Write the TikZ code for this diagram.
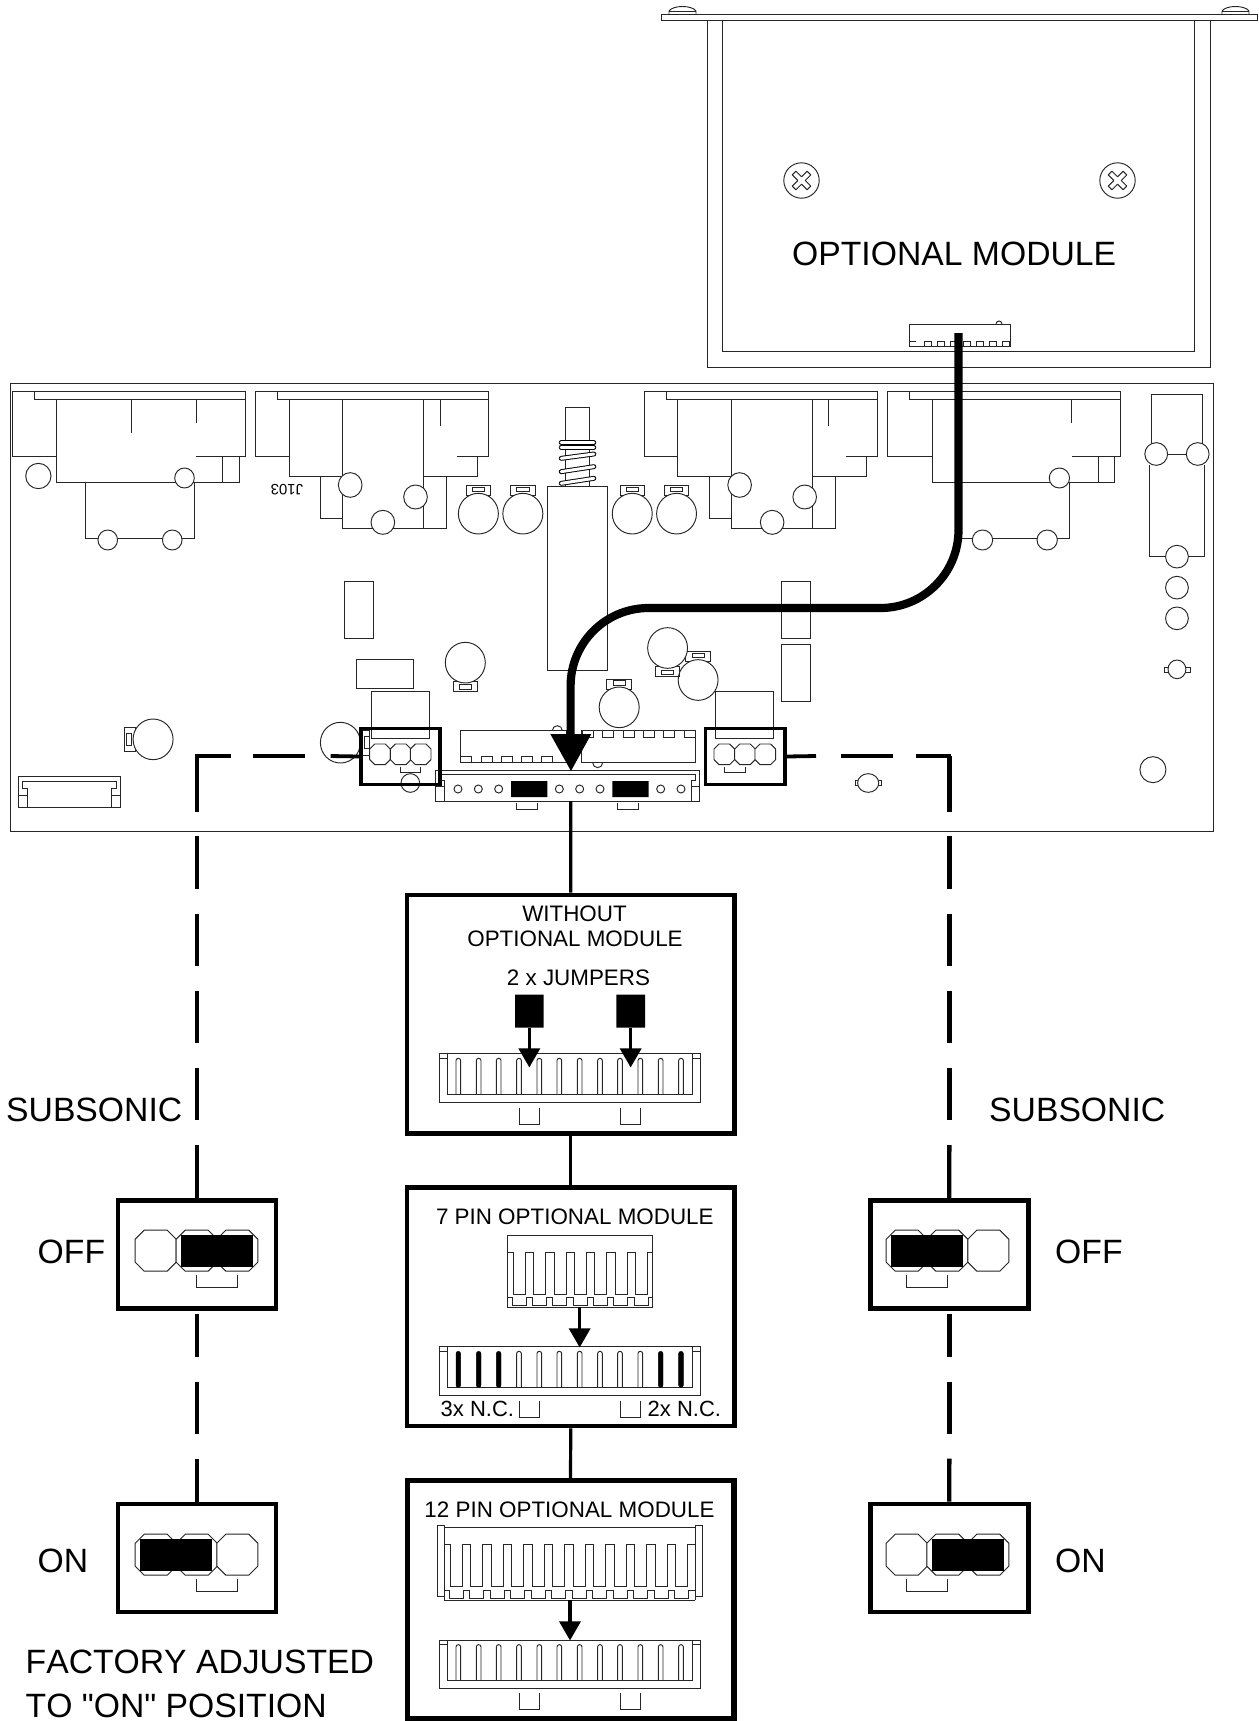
\documentclass[tikz,border=0pt]{standalone}
\usepackage{fontspec}
\setmainfont{Liberation Sans}
\newfontfamily\mf{Liberation Sans}[Kerning=Off]
\newcommand\fsz[1]{\mf\fontsize{#1}{#1}\selectfont}
\tikzset{
  ln/.style={line width=0.95pt,draw=black!85},
  jump/.style={line width=3.2pt,draw=black},
  dashln/.style={line width=4.4pt,draw=black},
  hdash/.style={line width=3.8pt,draw=black},
  bigtxt/.style={inner sep=0pt,anchor=base west,font=\fsz{33.7}},
  midtxt/.style={inner sep=0pt,anchor=base,font=\fsz{22.4}},
  framebox/.style={draw=black,line width=4.6pt,inner sep=0pt,minimum width=#1},
  framebox/.default=158pt,
  thinframe/.style={draw=black,line width=3.7pt,inner sep=0pt},
}
\newcommand\el[4]{\draw[ln,fill=white] (#1,#2) ellipse [x radius=#3,y radius=#4];}
\newcommand\rc[4]{\draw[ln] (#1,#2) rectangle (#3,#4);}
\newcommand\capT[2]{\rc{#1-30}{#2-85}{#1+30}{#2-55}\rc{#1-15}{#2-80}{#1+15}{#2-67}\el{#1}{#2}{49}{61}}
\newcommand\capB[2]{\rc{#1-30}{#2+55}{#1+30}{#2+86}\rc{#1-15}{#2+66}{#1+15}{#2+79}\el{#1}{#2}{49}{61}}
\newcommand\oct[4]{\draw[ln,fill=white] (#1-#3+#4,#2-#3)--(#1+#3-#4,#2-#3)--(#1+#3,#2-#3+#4)--(#1+#3,#2+#3-#4)--(#1+#3-#4,#2+#3)--(#1-#3+#4,#2+#3)--(#1-#3,#2+#3-#4)--(#1-#3,#2-#3+#4)--cycle;}
% comb: x, width, period, last index, top, bottom
\newcommand\comb[6]{%
  \foreach \i in {0,...,#4}{\draw[ln] ({#1+#3*\i},#5)--({#1+#3*\i},#6)--({#1+#3*\i+#2},#6)--({#1+#3*\i+#2},#5);}
  \foreach \i in {1,...,#4}{\draw[ln] ({#1+#3*\i-#3+#2},#5)--({#1+#3*\i},#5);}}
% header in zoom units, top T
\newcommand\header[1]{%
  \rc{148}{#1}{932}{#1+146}
  \draw[ln] (172,#1)--(172,#1+122)--(907,#1+122)--(907,#1);
  \draw[ln] (148,#1+14)--(172,#1+14) (907,#1+14)--(932,#1+14);}
\newcommand\slot[2]{\draw[ln,rounded corners=2.2pt] (#1-7,#2+122)--(#1-7,#2+14)--(#1+7,#2+14)--(#1+7,#2+122);}
\newcommand\slotb[2]{\draw[fill=black,draw=black,rounded corners=2.2pt] (#1-7,#2+122)--(#1-7,#2+14)--(#1+7,#2+14)--(#1+7,#2+122)--cycle;}
\newcommand\brk[4]{\draw[ln] (#1,#3)--(#1,#4)--(#2,#4)--(#2,#3);}
\newcommand\atip[3]{\fill[black] (#1-33,#2)--(#1+33,#2)--(#1,#3)--cycle;}
\begin{document}
\begin{tikzpicture}[x=1pt,y=-1pt]
\useasboundingbox (0,0) rectangle (1258,1721);
% ---- optional module
\draw[ln] (707,20)--(707,367)--(1210,367)--(1210,20);
\draw[ln] (722,20)--(722,351)--(1194.5,351)--(1194.5,20);
\draw[ln,fill=white] (661.5,14) rectangle (1257,20);
\foreach \b in {669,1222}{
  \draw[ln] (\b,14)--(\b,11) .. controls (\b+4,5) and (\b+23,5) .. (\b+27,11)--(\b+27,14);
  \draw[ln] (\b,11)--(\b+27,11);}
\foreach \c in {801.5,1117.5}{
  \draw[ln] (\c,180.5) circle [radius=17.7];
  \begin{scope}[shift={(\c,180.5)},rotate=45]
    \draw[ln,line join=round] (-2.6,-10.5)--(2.6,-10.5)--(2.6,-2.6)--(10.5,-2.6)--(10.5,2.6)--(2.6,2.6)--(2.6,10.5)--(-2.6,10.5)--(-2.6,2.6)--(-10.5,2.6)--(-10.5,-2.6)--(-2.6,-2.6)--cycle;
  \end{scope}}
\node[bigtxt] (title) at (792,265) {OPTIONAL MODULE};
\draw[ln] (909,346)--(909,324)--(1010,324)--(1010,346)--cycle;
\foreach \i in {0,...,6}{\rc{924+13.1*\i}{341}{931+13.1*\i}{346}}
\draw[ln] (909,341)--(916,341) (1003,341)--(1010,341);
\draw[ln] (996,324) arc[start angle=180,end angle=360,radius=3];
% ---- board
\draw[ln] (10,383) rectangle (1213.6,831);
\begin{scope}[shift={(0,370)},x=0.40816pt,y=-0.33333pt]
  % connector 1
  \draw[ln] (139,258)--(30,258)--(30,63)--(602,63)--(602,258)--(480,258);
  \draw[ln] (85,63)--(85,88)--(602,88);
  \draw[ln] (139,88)--(139,336)--(586,336)--(586,258);
  \draw[ln] (546,258)--(546,336);
  \draw[ln] (323,88)--(323,190) (481,88)--(481,160);
  \draw[ln] (209,336)--(209,506)--(477,506)--(477,336);
  \el{94}{318}{31}{38}\el{452}{324}{24}{30}\el{264}{510}{24}{30}\el{422}{510}{24}{30}
  % connector 2
  \draw[ln] (708,258)--(627,258)--(627,63)--(1197,63)--(1197,258)--(1120,258);
  \draw[ln] (681,63)--(681,88)--(1197,88);
  \draw[ln] (708,88)--(708,319)--(840,319);
  \draw[ln] (840,88)--(840,476)--(1093,476)--(1093,319)--(1038,319);
  \draw[ln] (1038,88)--(1038,476) (1078,88)--(1078,167);
  \draw[ln] (1170,258)--(1170,319)--(1038,319);
  \draw[ln] (785,319)--(785,446)--(840,446);
  \el{858}{345}{29}{37}\el{1018}{381}{29}{36}\el{938}{457}{29}{36}
  \node[inner sep=0pt,rotate=180,font=\fsz{15}] (j103) at (703,360) {J103};
  \capT{1172}{431}\capT{1281}{431}\capT{1549}{431}
  % switch
  \rc{1385}{112}{1445}{350}
  \rc{1341}{350}{1489}{901}
  \foreach \a/\b in {218/218,232/232,265/252,305/290,340/325}{
    \draw[line width=0.95pt,black,double=white,double distance=3pt,line cap=round] (1375,\a)--(1455,\b);}
  \rc{844}{634}{914}{804}
  \rc{873}{868}{1013}{954}
  \capB{1140}{878}
  \capT{1517}{1012}
  \rc{910}{964}{1052}{1106}
  % caps by the left box
  \rc{880}{1080}{905}{1155}\rc{893}{1098}{905}{1135}
  \el{834}{1118}{49}{61}
  \rc{305}{1072}{332}{1145}\rc{310}{1090}{322}{1127}
  \el{375}{1108}{49}{61}
  % white connector
  \rc{45}{1219}{294}{1312}
  \draw[ln] (45,1275)--(67,1275)--(67,1255)--(55,1255)--(55,1233)--(285,1233)--(285,1255)--(273,1255)--(273,1275)--(294,1275);
  \draw[ln] (67,1275)--(67,1312) (273,1275)--(273,1312);
\end{scope}
\begin{scope}[shift={(620,370)},x=0.40683pt,y=-0.33333pt]
  % connector 3
  \draw[ln] (142,258)--(60,258)--(60,63)--(633,63)--(633,258)--(555,258);
  \draw[ln] (115,63)--(115,88)--(633,88);
  \draw[ln] (142,88)--(142,319)--(274,319);
  \draw[ln] (274,88)--(274,476)--(529,476)--(529,319)--(473,319);
  \draw[ln] (473,88)--(473,476) (513,88)--(513,167);
  \draw[ln] (606,258)--(606,319)--(473,319);
  \draw[ln] (219,319)--(219,446)--(274,446);
  \el{294}{345}{29}{37}\el{454}{381}{29}{36}\el{374}{457}{29}{36}
  \capT{139}{431}
  % connector 4
  \draw[ln] (768,258)--(657,258)--(657,63)--(1230,63)--(1230,258)--(1110,258);
  \draw[ln] (712,63)--(712,88)--(1230,88);
  \draw[ln] (768,88)--(768,336)--(1215,336)--(1215,258);
  \draw[ln] (1176,258)--(1176,336) (1110,88)--(1110,160);
  \draw[ln] (830,506)--(1105,506)--(1105,336);
  \el{1080}{324}{25}{30}\el{891}{510}{25}{30}\el{1050}{510}{25}{30}
  % right hand column
  \draw[ln] (1307,252)--(1307,73)--(1431,73)--(1431,252);
  \draw[ln] (1301,285)--(1301,560)--(1437,560)--(1437,285);
  \draw[ln] (1346,252)--(1392,252);
  \el{1318}{252}{28}{34}\el{1420}{252}{28}{34}
  \el{1369}{560}{28}{34}\el{1369}{653}{28}{34}\el{1369}{745}{28}{34}
  \rc{1338}{892}{1401}{906}\el{1369}{898}{22}{28}
  \el{1310}{1199}{32}{39}
  \capT{192}{930}
  \capB{117}{834}
  \rc{398}{634}{468}{804}
  \rc{398}{823}{468}{993}
  \rc{234}{964}{377}{1106}
  \rc{580}{1232}{642}{1246}\el{610}{1239}{26}{28}
\end{scope}
% strip, chips and small boxes
\begin{scope}[shift={(340,700)},x=0.33333pt,y=-0.33333pt]
  \draw[ln] (360,92) rectangle (680,188);
  \foreach \s in {360,424,485,545,605}{\draw[ln] (\s,188)--(\s,168)--(\s+33,168)--(\s+33,188);}
  \draw[ln] (637,92) arc[start angle=180,end angle=360,radius=15];
  \draw[ln] (724,92) rectangle (1066,188);
  \foreach \s in {727,788,850,910,970,1033}{\draw[ln] (\s,92)--(\s,112)--(\s+33,112)--(\s+33,92);}
  \draw[ln] (758,188) arc[start angle=180,end angle=0,radius=15];
  \draw[ln,fill=white] (287,212) rectangle (1078,303);
  \draw[ln] (287,258)--(313,258)--(313,242)--(300,242)--(300,222)--(1066,222)--(1066,242)--(1055,242)--(1055,258)--(1078,258);
  \draw[ln] (313,258)--(313,303) (1055,258)--(1055,303);
  \foreach \c in {354,415,476,658,719,780,962,1023}{\draw[ln] (\c,267) circle [radius=12];}
  \fill[black] (513,243) rectangle (622,291) (817,243) rectangle (926,291);
  \brk{530}{592}{309}{327}\brk{833}{895}{309}{327}
  \el{211}{249}{28}{28}
  \brk{181}{241}{200}{218}\brk{1153}{1215}{200}{218}
\end{scope}
\oct{380}{754.3}{10.3}{5}\oct{400.7}{754.3}{10.3}{5}\oct{420.7}{754.3}{10.3}{5}
\oct{724.3}{754.3}{10.3}{5}\oct{745}{754.3}{10.3}{5}\oct{765.3}{754.3}{10.3}{5}
% selector frames on the board
\node[thinframe,minimum width=79pt,minimum height=56pt] (boxL) at (400.5,756.5) {};
\node[thinframe,minimum width=79.5pt,minimum height=56pt] (boxR) at (745.2,756.5) {};
% cable and arrow
\coordinate (modpin) at (958.5,333);
\coordinate (cabbend) at (958.5,608);
\coordinate (cableft) at (570.6,608);
\coordinate (cabend) at (570.6,740);
\draw[black,line width=8.2pt,rounded corners=78pt] (modpin)--(cabbend)--(cableft)--(cabend);
\fill[black] (550.3,734)--(591.3,734)--(571,771)--cycle;
% ---- centre frames
\node[framebox=327.5pt,minimum height=238.5pt] (woBox) at (570.75,1014.25) {};
\node[framebox=327.5pt,minimum height=238.5pt] (svBox) at (570.75,1306.85) {};
\coordinate (twBoxTop) at (570.5,1478);
\coordinate (stripbot) at (570.7,801);
\draw[jump] (stripbot)--(woBox.north);
\draw[jump] (woBox.south)--(svBox.north);
\draw[jump] (svBox.south)--(twBoxTop);
\draw[draw=black,line width=5.6pt] (407.3,1721)--(407.3,1480.5)--(733.9,1480.5)--(733.9,1721);
\draw[draw=black,line width=4.6pt] (407,1718.5)--(734,1718.5);
% box 1
\node[midtxt] (t1) at (574.5,921.7) {WITHOUT};
\node[midtxt] (t2) at (575,946.7) {OPTIONAL MODULE};
\node[midtxt] (t3) at (578.5,985.7) {2 x JUMPERS};
\begin{scope}[shift={(390,880)},x=0.33333pt,y=-0.33333pt]
  \header{521}
  \foreach \X in {205,266,326,387,448,508,569,630,690,751,812,873}{\slot{\X}{521}}
  \brk{387}{449}{683}{732}\brk{690}{752}{683}{732}
  \fill[black] (375,344) rectangle (461,443) (679,344) rectangle (765,443);
  \draw[jump] (418,443)--(418,510);
  \draw[jump] (722,443)--(722,510);
  \atip{418}{505}{562}\atip{722}{505}{562}
\end{scope}
% box 2
\node[midtxt] (t4) at (574.8,1224.3) {7 PIN OPTIONAL MODULE};
\begin{scope}[shift={(390,1170)},x=0.33333pt,y=-0.33333pt]
  \rc{351}{197}{787}{412}
  \comb{370}{36}{61}{6}{247}{372}
  \draw[ln] (351,247)--(370,247) (772,247)--(787,247);
  \comb{366}{42}{61}{6}{382}{407}
  \draw[ln] (351,382)--(366,382) (774,382)--(787,382);
  \header{530}
  \foreach \X in {387,448,508,569,630,690,751}{\slot{\X}{530}}
  \foreach \X in {205,266,326,812,873}{\slotb{\X}{530}}
  \brk{387}{449}{692}{741}\brk{690}{752}{692}{741}
  \draw[jump] (568,412)--(568,480);
  \atip{569}{475}{532}
\end{scope}
\node[inner sep=0pt,anchor=base west,font=\fsz{22}] (nc3) at (440.5,1416.3) {3x N.C.};
\node[inner sep=0pt,anchor=base west,font=\fsz{22}] (nc2) at (647.5,1416.3) {2x N.C.};
% box 3
\node[midtxt] (t5) at (569.5,1517.7) {12 PIN OPTIONAL MODULE};
\begin{scope}[shift={(390,1460)},x=0.33333pt,y=-0.33333pt]
  \rc{141}{195}{163}{410}\rc{916}{195}{938}{410}
  \draw[ln] (163,203)--(916,203) (163,421)--(916,421) (163,410)--(163,421) (916,410)--(916,421);
  \comb{181}{36}{61.5}{11}{253}{380}
  \draw[ln] (163,253)--(181,253) (894,253)--(916,253);
  \comb{177}{42}{61.6}{11}{391}{414}
  \draw[ln] (163,391)--(177,391) (897,391)--(916,391);
  \header{540}
  \foreach \X in {205,266,326,387,448,508,569,630,690,751,812,873}{\slot{\X}{540}}
  \brk{387}{449}{700}{748}\brk{690}{752}{700}{748}
  \draw[jump] (540,421)--(540,490);
  \atip{540}{484}{541}
\end{scope}
% ---- side frames
\node[framebox=158pt,minimum height=108pt] (offL) at (197,1254.5) {};
\node[framebox=158pt,minimum height=108pt] (onL) at (197,1558) {};
\node[framebox=158pt,minimum height=108pt] (offR) at (949.2,1254.5) {};
\node[framebox=158pt,minimum height=108pt] (onR) at (949.2,1558) {};
% left jumpers
\oct{155.7}{1250.7}{20.5}{9}\oct{196.7}{1250.7}{20.5}{9}\oct{237.3}{1250.7}{20.5}{9}
\fill[black] (181,1235) rectangle (253.3,1266.7);
\brk{196.7}{237.3}{1275}{1287.3}
\oct{155.7}{1554.7}{20.5}{9}\oct{196.7}{1554.7}{20.5}{9}\oct{237.3}{1554.7}{20.5}{9}
\fill[black] (140,1539) rectangle (212.3,1570.7);
\brk{196.7}{237.3}{1579}{1591.3}
% right jumpers
\oct{906.7}{1250.7}{20.5}{9}\oct{947.3}{1250.7}{20.5}{9}\oct{988.3}{1250.7}{20.5}{9}
\fill[black] (890.7,1235) rectangle (963,1266.7);
\brk{906.7}{947.3}{1275}{1287.3}
\oct{906.7}{1554.7}{20.5}{9}\oct{947.3}{1554.7}{20.5}{9}\oct{988.3}{1554.7}{20.5}{9}
\fill[black] (931.7,1539) rectangle (1003.7,1570.7);
\brk{906.7}{947.3}{1579}{1591.3}
% ---- dashed connectors
\coordinate (cl) at (197,756);
\coordinate (cr) at (949.5,756);
\draw[hdash] (boxL.west)--(330.6,756);
\draw[hdash] (305,756)--(253,756);
\draw[hdash,line cap=rect] (228.6,756)--(cl);
\draw[hdash] (boxR.east)--(816,756);
\draw[hdash] (841,756)--(893.4,756);
\draw[hdash,line cap=rect] (918,756)--(cr);
\draw[dashln] (cl)--(197,811.7);
\draw[dashln] (cr)--(949.5,811.7);
\foreach \x in {197,949.3}{
  \foreach \a/\b in {836/889,913.7/966,991/1043,1068/1120.3}{\draw[dashln] (\x,\a)--(\x,\b);}
  \foreach \a/\b in {1314/1356.7,1381.7/1434}{\draw[dashln] (\x,\a)--(\x,\b);}}
\draw[dashln] (197,1145)--(offL.north);
\draw[dashln] (949.3,1145)--(offR.north);
\draw[dashln] (197,1458.7)--(onL.north);
\draw[dashln] (949.3,1458.7)--(onR.north);
% ---- labels
\node[bigtxt] (subL) at (6,1121) {SUBSONIC};
\node[bigtxt] (offtL) at (37.5,1263.6) {OFF};
\node[bigtxt] (ontL) at (37.5,1572) {ON};
\node[bigtxt] (subR) at (989,1121) {SUBSONIC};
\node[bigtxt] (offtR) at (1055,1263.6) {OFF};
\node[bigtxt] (ontR) at (1055,1572) {ON};
\node[bigtxt] (fa1) at (25.5,1673) {FACTORY ADJUSTED};
\node[bigtxt] (fa2) at (25.5,1717.5) {TO "ON" POSITION};
\end{tikzpicture}
\end{document}
